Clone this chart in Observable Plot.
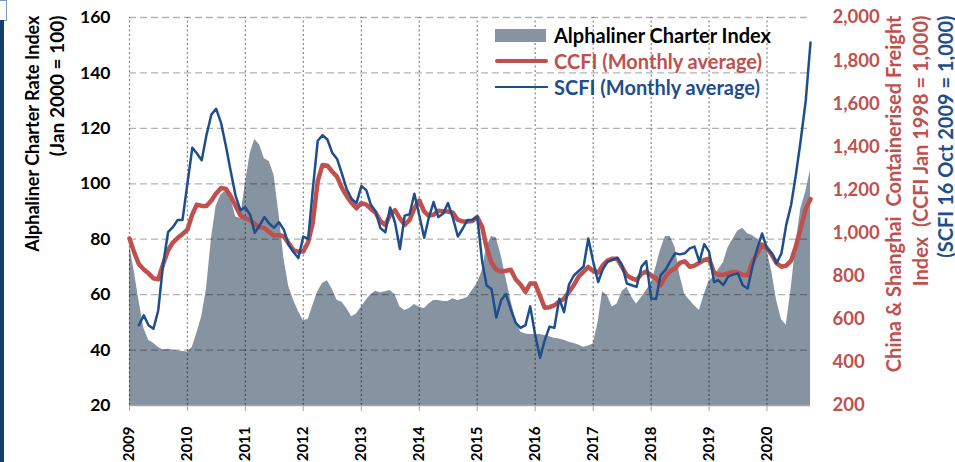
<!DOCTYPE html>
<html>
<head>
<meta charset="utf-8">
<script src="https://cdn.jsdelivr.net/npm/d3@7"></script>
<script src="https://cdn.jsdelivr.net/npm/@observablehq/plot@0.6"></script>
<style>
  html, body { margin: 0; padding: 0; background: #fff; }
  body { width: 955px; height: 462px; position: relative; overflow: hidden; font-family: Lato, "Open Sans", sans-serif; }
  #chart { position: absolute; left: 0; top: 0; }
  .deco-bar { position: absolute; left: 0; top: 20px; width: 4px; height: 442px; background: #143f70; }
  .deco-box { position: absolute; left: 0; top: 0; width: 6px; height: 19px; border: 1px solid #7f9cc0; border-left: none; }
  #legend { position: absolute; left: 495px; top: 22px; font-weight: bold; font-size: 20px; }
  #legend .row { display: flex; align-items: center; height: 26px; }
  #legend .sw { width: 53px; margin-right: 6px; display: flex; align-items: center; }
</style>
</head>
<body>
<div class="deco-box"></div>
<div class="deco-bar"></div>
<div id="chart"></div>
<div id="legend"></div>
<script>
// ---- data (monthly) ----
const alphalinerStart = "2009-01";
const alphaliner = [
  78, 68, 58, 48, 43.5, 42.5, 41, 40, 40.3, 40, 39.7, 39.5,
  39.3, 41, 46, 52, 62, 80, 92, 96, 97.5, 95, 88, 87.5,
  100, 111, 116, 114, 109, 108, 103, 89, 73, 63, 58, 54,
  50.7, 51, 56, 61, 64, 65, 62, 58, 57.3, 55, 52, 53,
  55.5, 58, 60, 61.2, 60.7, 61, 61.5, 60, 55.5, 54.3, 55, 56.4,
  55.5, 54.9, 56.5, 57.9, 57.9, 57.5, 57.5, 58.5, 57.9, 58.3, 59, 61.5,
  64, 68.5, 77, 81, 80.5, 74, 66, 58, 51, 46.5, 45.8, 45.6,
  45.6, 45.6, 45.3, 44.8, 44.3, 44, 43.5, 42.8, 42.4, 41.8, 41, 41.5,
  42.2, 50, 61, 59.5, 55.5, 56.6, 61, 62.7, 59.1, 56.6, 59, 61.5,
  64, 70, 76, 81, 81, 77, 67, 60, 58, 56, 54.3, 60,
  65, 66.3, 69, 71.5, 77, 80, 83, 84, 82, 81.3, 80, 78.3,
  76, 68, 58, 51, 49, 62, 78, 91, 97, 105
];
const ccfiStart = "2009-01";
const ccfi = [
  975, 907, 856, 831, 813, 790, 785, 856, 920, 956, 978, 995,
  1016, 1087, 1132, 1126, 1126, 1151, 1184, 1209, 1205, 1171, 1126, 1081,
  1068, 1061, 1042, 1027, 1023, 1004, 988, 991, 984, 952, 920, 914,
  914, 959, 1049, 1241, 1316, 1312, 1286, 1261, 1208, 1171, 1139, 1115,
  1139, 1132, 1113, 1094, 1055, 1038, 1085, 1106, 1068, 1038, 1061, 1115,
  1151, 1100, 1081, 1085, 1103, 1101, 1100, 1094, 1061, 1054, 1054, 1056,
  1074, 1029, 933, 862, 830, 821, 825, 830, 785, 761, 727, 766,
  766, 708, 654, 656, 665, 682, 696, 727, 759, 798, 821, 843,
  824, 817, 849, 872, 881, 881, 843, 804, 790, 782, 811, 821,
  804, 790, 759, 798, 824, 836, 862, 869, 844, 849, 862, 875,
  881, 817, 807, 807, 813, 820, 817, 807, 804, 866, 907, 946,
  929, 898, 860, 844, 849, 872, 939, 1023, 1113, 1158
];
const scfiStart = "2009-03";
const scfi = [
  572, 618, 572, 556, 641, 856, 1004, 1027, 1061, 1061,
  1229, 1396, 1370, 1338, 1455, 1550, 1576, 1511, 1402, 1286, 1171, 1106,
  1119, 1083, 1001, 1036, 1074, 1043, 1025, 1050, 1015, 946, 911, 884,
  984, 973, 1203, 1428, 1454, 1434, 1373, 1344, 1274, 1203, 1158, 1139,
  1218, 1199, 1133, 1100, 1023, 1004, 1119, 1049, 926, 1081, 1087, 1182,
  1081, 978, 1069, 1144, 1074, 1091, 1139, 1069, 984, 1020, 1061, 1061,
  1077, 869, 757, 740, 608, 689, 717, 645, 583, 560, 573, 660,
  528, 421, 502, 566, 560, 695, 633, 761, 803, 824, 844, 975,
  867, 773, 829, 867, 875, 885, 852, 766, 758, 750, 844, 870,
  696, 694, 804, 829, 869, 906, 901, 906, 929, 937, 867, 948,
  914, 773, 781, 758, 798, 807, 813, 758, 743, 844, 929, 998,
  929, 906, 860, 906, 1038, 1131, 1271, 1434, 1614, 1884
];
const yearLabels = ["2009","2010","2011","2012","2013","2014","2015","2016","2017","2018","2019","2020"];
const leftTicks = [20, 40, 60, 80, 100, 120, 140, 160];
const rightTicks = [200, 400, 600, 800, 1000, 1200, 1400, 1600, 1800, 2000];
const seriesNames = ["Alphaliner Charter Index", "CCFI (Monthly average)", "SCFI (Monthly average)"];
const leftTitle = ["Alphaliner Charter Rate Index", "(Jan 2000 = 100)"];
const rightTitle = ["China & Shanghai  Containerised Freight", "Index  (CCFI Jan 1998 = 1,000)", "(SCFI 16 Oct 2009 = 1,000)"];

// ---- helpers ----
const colors = {area: "#8693a1", ccfi: "#c0504d", scfi: "#1f4e8c"};
const leftDomain = [20, 160], rightDomain = [200, 2000];
const toL = r => leftDomain[0] + (r - rightDomain[0]) * (leftDomain[1] - leftDomain[0]) / (rightDomain[1] - rightDomain[0]);
const toR = l => rightDomain[0] + (l - leftDomain[0]) * (rightDomain[1] - rightDomain[0]) / (leftDomain[1] - leftDomain[0]);
const monthSeries = (start, values) => {
  const s = new Date(start + "-01T00:00:00Z");
  return values.map((v, i) => ({date: d3.utcMonth.offset(s, i), value: v}));
};
const alphaRows = monthSeries(alphalinerStart, alphaliner);
const ccfiRows = monthSeries(ccfiStart, ccfi);
const scfiRows = monthSeries(scfiStart, scfi);
const yearDates = yearLabels.map(y => new Date(y + "-01-01T00:00:00Z"));
const xDomain = [alphaRows[0].date, alphaRows[alphaRows.length - 1].date];

const chart = Plot.plot({
  width: 955,
  height: 462,
  marginLeft: 129,
  marginRight: 145,
  marginTop: 17,
  marginBottom: 57,
  style: {fontFamily: "Lato, 'Open Sans', sans-serif", fontWeight: "bold", fontSize: "16px", overflow: "visible", background: "transparent"},
  x: {type: "utc", domain: xDomain},
  y: {domain: leftDomain},
  marks: [
    Plot.areaY(alphaRows, {x: "date", y1: 20, y2: "value", fill: colors.area}),
    Plot.ruleY(leftTicks.slice(1), {stroke: "#000", strokeOpacity: 0.3, strokeWidth: 1.3, strokeDasharray: "7,4"}),
    Plot.ruleX(yearDates, {y1: 20, y2: 160, stroke: "#000", strokeOpacity: 0.45, strokeWidth: 1.3, strokeDasharray: "2,2.5"}),
    Plot.ruleY([20], {stroke: "#a6a6a6", strokeWidth: 1.5}),
    Plot.axisX({ticks: yearDates, tickFormat: "%Y", tickRotate: -90, tickSize: 6, tickPadding: 15, stroke: "#a6a6a6", fill: "#000", fontSize: 15, label: null}),
    Plot.axisY({anchor: "left", ticks: leftTicks, tickSize: 0, tickPadding: 19, fill: "#000", fontSize: 17.5, label: null}),
    Plot.axisY({anchor: "right", ticks: rightTicks.map(toL), tickFormat: v => d3.format(",")(Math.round(toR(v))), tickSize: 0, tickPadding: 22, fill: colors.ccfi, fontSize: 18.5, label: null}),
    Plot.lineY(ccfiRows, {x: "date", y: d => toL(d.value), stroke: colors.ccfi, strokeWidth: 4.5, strokeLinejoin: "round"}),
    Plot.lineY(scfiRows, {x: "date", y: d => toL(d.value), stroke: colors.scfi, strokeWidth: 2.5, strokeLinejoin: "round"}),
    Plot.text([leftTitle[0]], {frameAnchor: "top-left", rotate: -90, textAnchor: "end", lineAnchor: "middle", dx: -96, dy: -2, fontSize: 18, fill: "#000"}),
    Plot.text([leftTitle[1]], {frameAnchor: "top-left", rotate: -90, textAnchor: "end", lineAnchor: "middle", dx: -72, dy: -2, fontSize: 19, fill: "#000"}),
    Plot.text([rightTitle[0]], {frameAnchor: "top-right", rotate: -90, textAnchor: "end", lineAnchor: "middle", dx: 84, dy: -2, fontSize: 20, fill: colors.ccfi}),
    Plot.text([rightTitle[1]], {frameAnchor: "top-right", rotate: -90, textAnchor: "end", lineAnchor: "middle", dx: 111, dy: -2, fontSize: 20, fill: colors.ccfi}),
    Plot.text([rightTitle[2]], {frameAnchor: "top-right", rotate: -90, textAnchor: "end", lineAnchor: "middle", dx: 136, dy: -2, fontSize: 20, fill: colors.scfi})
  ]
});
document.getElementById("chart").appendChild(chart);

// ---- legend ----
const legend = document.getElementById("legend");
const swatches = [
  `<div style="width:51px;height:13px;background:${colors.area}"></div>`,
  `<div style="width:53px;height:4.5px;background:${colors.ccfi};border-radius:2px"></div>`,
  `<div style="width:53px;height:2.5px;background:${colors.scfi}"></div>`
];
const textColors = ["#000", colors.ccfi, colors.scfi];
seriesNames.forEach((name, i) => {
  const row = document.createElement("div");
  row.className = "row";
  row.innerHTML = `<div class="sw">${swatches[i]}</div><span style="color:${textColors[i]}">${name}</span>`;
  legend.appendChild(row);
});
</script>
</body>
</html>
